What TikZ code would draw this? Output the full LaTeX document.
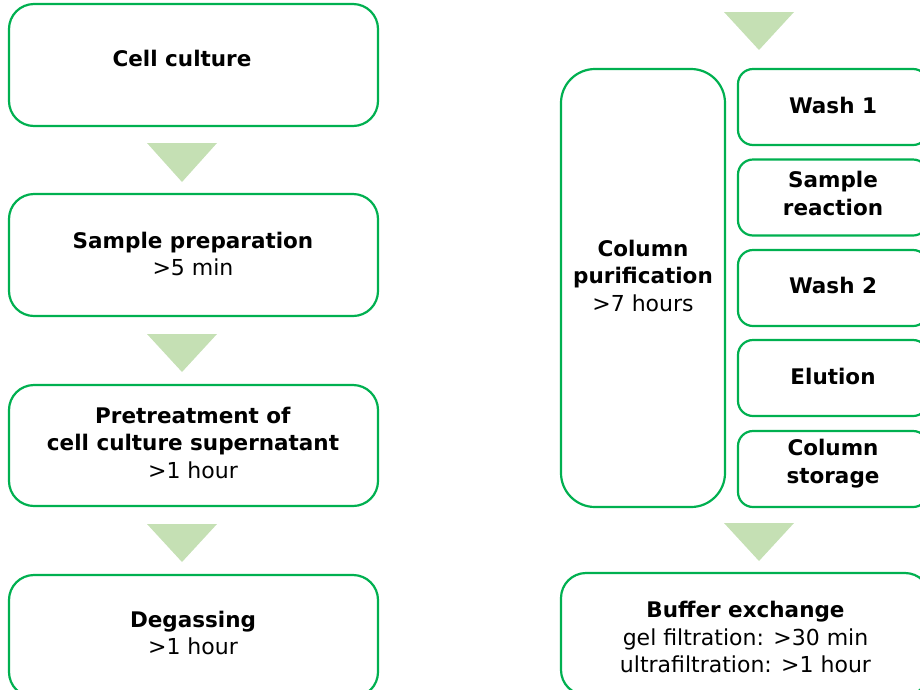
\documentclass[tikz,border=0pt]{standalone}
\usepackage{fontspec}
\setmainfont{DejaVu Sans}
\definecolor{boxgreen}{RGB}{0,176,80}
\definecolor{arrowgreen}{RGB}{197,224,180}
\newcommand{\tm}[1]{{\fontsize{22}{27.5}\selectfont #1}}
\begin{document}
\begin{tikzpicture}[x=1pt,y=-1pt,
  box/.style={draw=boxgreen, line width=2.2pt, fill=white, rectangle, inner sep=0pt},
  bigbox/.style={box, rounded corners=25pt},
  tallbox/.style={box, rounded corners=34pt},
  subbox/.style={box, rounded corners=15pt},
  txt/.style={align=center, inner sep=0pt, font=\fontsize{21.5}{27.5}\selectfont},
  flowarrow/.style={fill=arrowgreen, draw=none}]
\useasboundingbox (0,0) rectangle (920,689);
\clip (0,0) rectangle (920,689);
% left column boxes
\node[bigbox, minimum width=369, minimum height=122] (b1) at (193.5,65) {};
\node[bigbox, minimum width=369, minimum height=122] (b2) at (193.5,255) {};
\node[bigbox, minimum width=369, minimum height=121] (b3) at (193.5,445.5) {};
\node[bigbox, minimum width=369, minimum height=122] (b4) at (193.5,636) {};
% left arrows
\fill[flowarrow] (147,143) -- (217,143) -- (182,182) -- cycle;
\fill[flowarrow] (147,334) -- (217,334) -- (182,372) -- cycle;
\fill[flowarrow] (147,524) -- (217,524) -- (182,562) -- cycle;
% left texts
\node[txt] (t1) at (182,58.5) {\textbf{Cell culture}};
\node[txt] (t2) at (193,254) {\textbf{Sample preparation}\\\tm{>5 min}};
\node[txt] (t3) at (193,442.5) {\textbf{Pretreatment of}\\\textbf{cell culture supernatant}\\\tm{>1 hour}};
\node[txt] (t4) at (193,633) {\textbf{Degassing}\\\tm{>1 hour}};
% right side
\fill[flowarrow] (724,12) -- (794,12) -- (759,50) -- cycle;
\node[tallbox, minimum width=164, minimum height=438] (cp) at (643,288) {};
\node[subbox, minimum width=190, minimum height=76] (s1) at (833,107) {};
\node[subbox, minimum width=190, minimum height=76] (s2) at (833,197.5) {};
\node[subbox, minimum width=190, minimum height=76] (s3) at (833,288) {};
\node[subbox, minimum width=190, minimum height=76] (s4) at (833,378) {};
\node[subbox, minimum width=190, minimum height=76] (s5) at (833,469) {};
\node[txt] (tcp) at (643,275.5) {\textbf{Column}\\\textbf{purification}\\\tm{>7 hours}};
\node[txt] (ts1) at (833,105) {\textbf{Wash 1}};
\node[txt] (ts2) at (833,193.5) {\textbf{Sample}\\\textbf{reaction}};
\node[txt] (ts3) at (833,285) {\textbf{Wash 2}};
\node[txt] (ts4) at (833,376) {\textbf{Elution}};
\node[txt] (ts5) at (833,463.5) {\textbf{Column}\\\textbf{storage}};
\fill[flowarrow] (724,523) -- (794,523) -- (759,561) -- cycle;
\node[bigbox, minimum width=369, minimum height=122] (bx) at (745.5,634) {};
\node[txt] (tbx) at (745.5,637) {\textbf{Buffer exchange}\\\tm{gel filtration: >30 min}\\\tm{ultrafiltration: >1 hour}};
\end{tikzpicture}
\end{document}
